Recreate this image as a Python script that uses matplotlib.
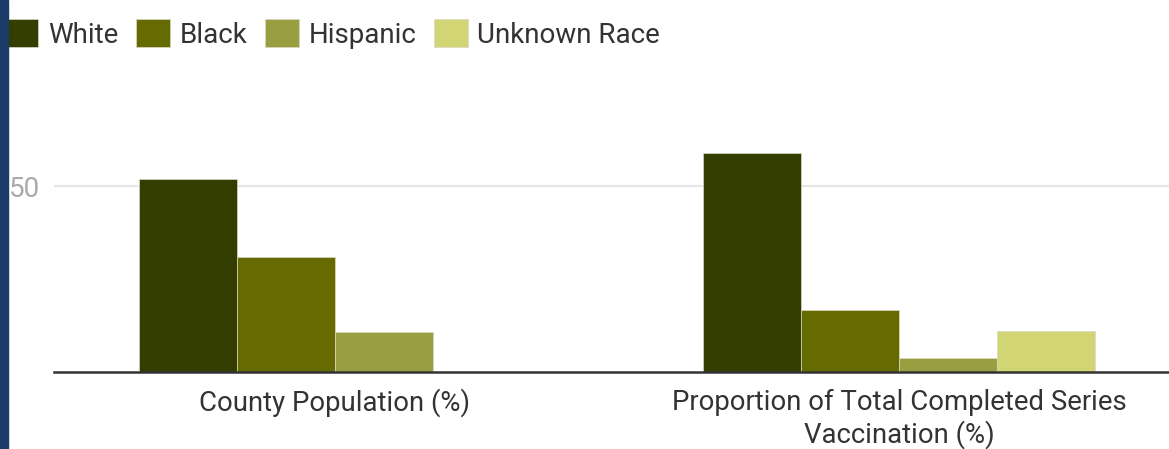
import matplotlib.pyplot as plt
import numpy as np
from matplotlib.patches import Rectangle, Patch

plt.rcParams['font.family'] = ['Roboto', 'DejaVu Sans']

# data
categories = ['County Population (%)', 'Proportion of Total Completed Series\nVaccination (%)']
races = ['White', 'Black', 'Hispanic', 'Unknown Race']
colors = ['#333d00', '#656b00', '#999e40', '#d1d574']
values = {
    'White': [51.8, 59.0],
    'Black': [30.9, 16.8],
    'Hispanic': [10.8, 3.8],
    'Unknown Race': [0.0, 10.9],
}


def main():
    W, H = 1169, 449
    fig = plt.figure(figsize=(W / 100, H / 100), dpi=100)
    ax = fig.add_axes([54 / W, (H - 372) / H, (W - 54) / W, (372 - 80) / H])

    # dark blue strip at the left edge
    fig.patches.append(Rectangle((0, 0), 8 / W, 1, transform=fig.transFigure,
                                 color='#1b3b66', zorder=10))

    x = np.arange(len(categories))
    w = 0.174
    for i, race in enumerate(races):
        ax.bar(x + (i - 1.5) * w, values[race], width=w, color=colors[i],
               edgecolor='#d8d8c8', linewidth=0.5, label=race, zorder=3)

    ax.set_xlim(-0.498, 1 + (W - 899) / 564)
    ax.set_ylim(0, 78.5)
    ax.set_yticks([50])
    ax.set_yticklabels(['50'], color='#aaaaaa', fontsize=20)
    ax.set_xticks(x)
    ax.set_xticklabels(categories, fontsize=19.8, color='#333333', linespacing=1.2)
    ax.tick_params(axis='both', length=0)
    ax.tick_params(axis='x', pad=12)
    ax.tick_params(axis='y', pad=10)
    ax.grid(axis='y', color='#e6e6e6', linewidth=1.5, zorder=0)
    for s in ['top', 'right', 'left']:
        ax.spines[s].set_visible(False)
    ax.spines['bottom'].set_color('#333333')
    ax.spines['bottom'].set_linewidth(1.8)
    ax.spines['bottom'].set_zorder(5)

    handles = [Patch(facecolor=c, edgecolor='#d8d8c8', linewidth=0.5) for c in colors]
    fig.legend(handles, races, loc='upper left', bbox_to_anchor=(5 / W, 1 - 19 / H),
               ncol=4, frameon=False, fontsize=20, handlelength=1.2, handleheight=1.2,
               handletextpad=0.35, columnspacing=0.65, borderaxespad=0, borderpad=0,
               labelcolor='#333333')

    plt.savefig('out.png', dpi=100)


if __name__ == "__main__":
    main()
